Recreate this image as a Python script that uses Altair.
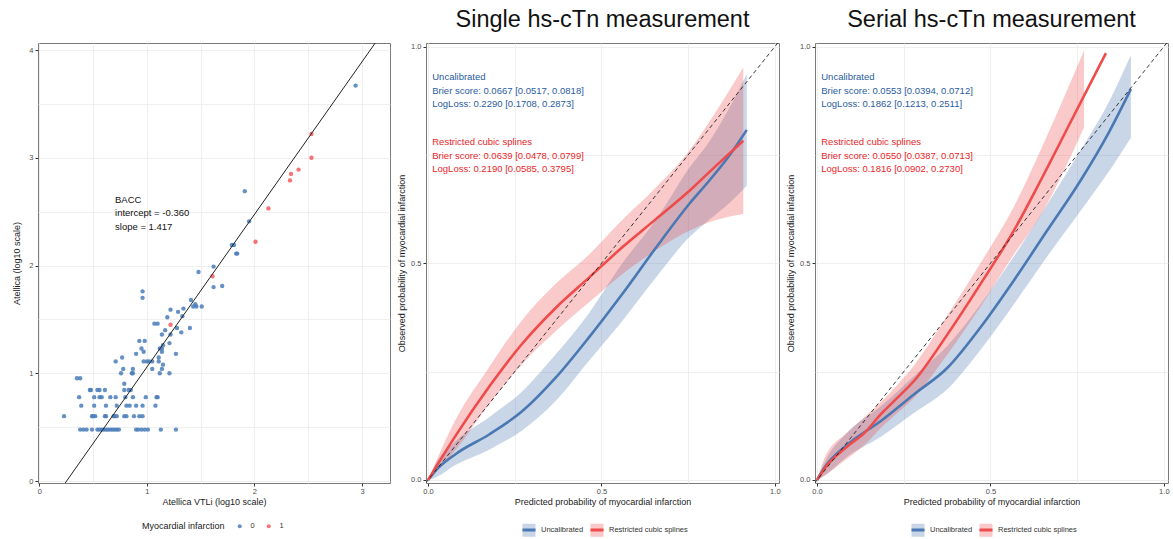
import altair as alt
import pandas as pd

FONT = "Liberation Sans"

# ---------------- Panel 1: Atellica VTLi vs Atellica (log10) ----------------
vtli = [
    0.38, 0.41, 0.44, 0.49, 0.54, 0.56, 0.58, 0.60, 0.62, 0.64, 0.66, 0.68, 0.70, 0.72, 0.74, 0.90, 0.92, 0.95, 0.98, 1.01, 1.13, 1.27,
    0.23, 0.49, 0.50, 0.52, 0.61, 0.62, 0.69, 0.70, 0.72, 0.79, 0.81, 0.88, 0.93, 0.96,
    0.39, 0.51, 0.62, 0.72, 0.81, 0.84, 0.90, 0.96, 1.08,
    0.37, 0.51, 0.56, 0.58, 0.66, 0.71, 0.80, 0.87, 0.99, 1.09, 1.10,
    0.47, 0.48, 0.54, 0.56, 0.61, 0.79, 0.83, 0.85,
    0.79,
    0.35, 0.38,
    0.76, 0.86, 0.87, 1.12, 1.21,
    0.78, 0.87, 1.05, 1.14,
    1.15,
    0.71, 0.97, 1.00, 1.02, 1.05, 1.11,
    0.77, 1.11,
    0.90, 1.27,
    0.97, 1.14,
    0.95, 1.12, 1.14,
    1.15, 1.21, 0.93, 0.98, 1.14, 1.22, 1.32, 1.17, 1.28, 1.40,
    1.22, 1.07, 1.10,
    1.19, 1.33, 1.29, 1.22, 1.34, 1.43, 1.46, 1.51, 1.45, 1.41, 0.96, 0.96,
    1.62, 1.70, 1.61, 1.48, 1.62, 1.83, 1.84, 1.79, 1.81, 2.01, 1.95, 2.13, 1.91,
    2.33, 2.34, 2.41, 2.53, 2.53, 2.94,
]
atellica = [
    0.477] * 22 + [0.602] * 14 + [0.699] * 9 + [0.778] * 11 + [0.845] * 8 + [0.903] + [0.954] * 2 + [1.0] * 5 + [
    1.04] * 4 + [1.08] + [1.11] * 6 + [1.146] * 2 + [1.18] * 2 + [1.20] * 2 + [1.23] * 3 + [
    1.26, 1.28, 1.30, 1.30, 1.36, 1.36, 1.38, 1.40, 1.42, 1.42,
    1.45, 1.46, 1.46,
    1.52, 1.53, 1.57, 1.59, 1.60, 1.62, 1.62, 1.62, 1.64, 1.68, 1.70, 1.76,
    1.80, 1.81, 1.90, 1.94, 1.99, 2.11, 2.11, 2.19, 2.19, 2.22, 2.41, 2.53, 2.69,
    2.79, 2.85, 2.89, 3.00, 3.22, 3.67,
]
mi_points = [(1.22, 1.45), (1.61, 1.90), (2.01, 2.22), (2.13, 2.53), (2.33, 2.79), (2.34, 2.85),
             (2.41, 2.89), (2.53, 3.00), (2.53, 3.22)]
mi = ["1" if (xv, yv) in mi_points else "0" for xv, yv in zip(vtli, atellica)]

reg_intercept = -0.360
reg_slope = 1.417
reg_x = [0.0, 3.4]
reg_y = [reg_intercept + reg_slope * v for v in reg_x]
bacc_text = ["BACC", "intercept = -0.360", "slope = 1.417"]

# ---------------- Panel 2: Single hs-cTn measurement ----------------
single_unc_pred = [0.0, 0.02, 0.08, 0.176, 0.272, 0.368, 0.464, 0.56, 0.657, 0.753, 0.81, 0.87, 0.919]
single_unc_obs = [0.0, 0.02, 0.06, 0.105, 0.159, 0.236, 0.329, 0.429, 0.536, 0.637, 0.69, 0.75, 0.808]
single_unc_lo = [0.0, 0.005, 0.035, 0.07, 0.115, 0.182, 0.275, 0.367, 0.467, 0.56, 0.60, 0.64, 0.679]
single_unc_hi = [0.0, 0.035, 0.09, 0.145, 0.205, 0.29, 0.385, 0.50, 0.60, 0.72, 0.78, 0.86, 0.937]

single_rcs_pred = [0.0, 0.08, 0.176, 0.272, 0.368, 0.464, 0.56, 0.657, 0.753, 0.83, 0.909]
single_rcs_obs = [0.0, 0.103, 0.215, 0.315, 0.397, 0.467, 0.537, 0.602, 0.667, 0.725, 0.783]
single_rcs_lo = [0.0, 0.07, 0.175, 0.268, 0.343, 0.41, 0.475, 0.53, 0.575, 0.60, 0.614]
single_rcs_hi = [0.0, 0.14, 0.26, 0.37, 0.453, 0.52, 0.60, 0.675, 0.76, 0.85, 0.952]

single_unc_text = ["Uncalibrated", "Brier score: 0.0667 [0.0517, 0.0818]", "LogLoss: 0.2290 [0.1708, 0.2873]"]
single_rcs_text = ["Restricted cubic splines", "Brier score: 0.0639 [0.0478, 0.0799]", "LogLoss: 0.2190 [0.0585, 0.3795]"]

# ---------------- Panel 3: Serial hs-cTn measurement ----------------
serial_unc_pred = [0.0, 0.021, 0.088, 0.184, 0.28, 0.376, 0.471, 0.567, 0.663, 0.759, 0.84, 0.905]
serial_unc_obs = [0.0, 0.028, 0.082, 0.136, 0.198, 0.259, 0.352, 0.46, 0.575, 0.69, 0.80, 0.902]
serial_unc_lo = [0.0, 0.01, 0.055, 0.10, 0.155, 0.21, 0.30, 0.405, 0.515, 0.62, 0.71, 0.79]
serial_unc_hi = [0.0, 0.04, 0.11, 0.17, 0.24, 0.31, 0.405, 0.515, 0.635, 0.76, 0.87, 0.981]

serial_rcs_pred = [0.0, 0.021, 0.088, 0.136, 0.184, 0.232, 0.28, 0.376, 0.471, 0.567, 0.644, 0.74, 0.833]
serial_rcs_obs = [0.0, 0.026, 0.078, 0.108, 0.152, 0.19, 0.229, 0.336, 0.452, 0.575, 0.69, 0.84, 0.985]
serial_rcs_band_pred = [0.0, 0.021, 0.088, 0.136, 0.184, 0.232, 0.28, 0.376, 0.471, 0.567, 0.644, 0.77]
serial_rcs_lo = [0.0, 0.01, 0.05, 0.08, 0.12, 0.155, 0.19, 0.29, 0.40, 0.52, 0.61, 0.814]
serial_rcs_hi = [0.0, 0.05, 0.11, 0.145, 0.18, 0.22, 0.265, 0.38, 0.50, 0.63, 0.76, 0.991]

serial_unc_text = ["Uncalibrated", "Brier score: 0.0553 [0.0394, 0.0712]", "LogLoss: 0.1862 [0.1213, 0.2511]"]
serial_rcs_text = ["Restricted cubic splines", "Brier score: 0.0550 [0.0387, 0.0713]", "LogLoss: 0.1816 [0.0902, 0.2730]"]

MODELS = ["Uncalibrated", "Restricted cubic splines"]
LINE_COLORS = ["#4A78B2", "#EF4B4B"]
TEXT_COLORS = ["#2A5C9E", "#E8262A"]
PT_COLORS = ["#4A7DBA", "#F25A5A"]

W2, H = 353, 440
AX_LABEL = dict(labelFont=FONT, labelFontSize=7.5, labelColor="#4D4D4D", titleFont=FONT,
                titleFontSize=9, titleFontWeight="normal", titleColor="#1a1a1a", tickColor="#333333",
                tickSize=3, domain=False, gridColor="#EBEBEB", gridWidth=0.8)

# ---------------- build panel 1 ----------------
df_pts = pd.DataFrame({"vtli": vtli, "atellica": atellica, "mi": mi})
df_reg = pd.DataFrame({"vtli": reg_x, "atellica": reg_y})
df_bacc = pd.DataFrame({"vtli": [0.704] * 3, "atellica": [2.61, 2.485, 2.36], "label": bacc_text})

half_steps_x = [0, 0.5, 1, 1.5, 2, 2.5, 3]
half_steps_y = [0, 0.5, 1, 1.5, 2, 2.5, 3, 3.5, 4]
int_test = {"condition": {"test": "datum.value % 1 === 0", "value": 1}, "value": 0}

x1 = alt.X("vtli:Q", scale=alt.Scale(domain=[-0.012, 3.26], nice=False, zero=False),
           axis=alt.Axis(title="Atellica VTLi (log10 scale)", values=half_steps_x,
                         labelExpr="datum.value % 1 === 0 ? format(datum.value, 'd') : ''",
                         tickOpacity=int_test, labelPadding=1, titlePadding=3, **AX_LABEL))
y1 = alt.Y("atellica:Q", scale=alt.Scale(domain=[-0.0185, 4.065], nice=False, zero=False),
           axis=alt.Axis(title="Atellica (log10 scale)", values=half_steps_y,
                         labelExpr="datum.value % 1 === 0 ? format(datum.value, 'd') : ''",
                         tickOpacity=int_test, labelPadding=2, titlePadding=7, **AX_LABEL))

pts = alt.Chart(df_pts).mark_circle(size=19, opacity=0.85).encode(
    x=x1, y=y1,
    color=alt.Color("mi:N", scale=alt.Scale(domain=["0", "1"], range=PT_COLORS),
                    legend=alt.Legend(title="Myocardial infarction", orient="none", legendX=104, legendY=479,
                                      direction="horizontal", titleOrient="left", titleFont=FONT,
                                      titleFontSize=9, titleFontWeight="normal", titleColor="#1a1a1a",
                                      titlePadding=11, labelFont=FONT, labelFontSize=7.5, labelColor="#333333",
                                      symbolType="circle", symbolSize=16, symbolStrokeWidth=0,
                                      symbolOpacity=0.85, labelOffset=7, columnPadding=10)),
)
reg = alt.Chart(df_reg).mark_line(color="#222222", strokeWidth=1, clip=True).encode(x="vtli:Q", y="atellica:Q")
bacc = alt.Chart(df_bacc).mark_text(align="left", baseline="middle", font=FONT, fontSize=9.5,
                                    color="#111111").encode(x="vtli:Q", y="atellica:Q", text="label:N")
p1 = alt.layer(pts, reg, bacc).properties(width=352, height=H)


# ---------------- calibration panels ----------------
def calib_panel(title, unc_pred, unc_obs, unc_lo, unc_hi, rcs_pred, rcs_obs,
                rcs_band_pred, rcs_lo, rcs_hi, unc_text, rcs_text):
    df_band = pd.concat([
        pd.DataFrame({"pred": unc_pred, "lo": unc_lo, "hi": unc_hi, "model": MODELS[0]}),
        pd.DataFrame({"pred": rcs_band_pred, "lo": rcs_lo, "hi": rcs_hi, "model": MODELS[1]}),
    ])
    df_line = pd.concat([
        pd.DataFrame({"pred": unc_pred, "obs": unc_obs, "model": MODELS[0]}),
        pd.DataFrame({"pred": rcs_pred, "obs": rcs_obs, "model": MODELS[1]}),
    ])
    df_diag = pd.DataFrame({"pred": [-0.02, 1.02], "obs": [-0.02, 1.02]})
    df_txt = pd.DataFrame({
        "pred": [0.012] * 6,
        "obs": [0.931, 0.898, 0.868, 0.781, 0.748, 0.718],
        "label": unc_text + rcs_text,
        "grp": [MODELS[0]] * 3 + [MODELS[1]] * 3,
    })
    q_vals = [0, 0.25, 0.5, 0.75, 1.0]
    half_test = {"condition": {"test": "datum.value % 0.5 === 0", "value": 1}, "value": 0}
    lab = "datum.value % 0.5 === 0 ? format(datum.value, '.1f') : ''"
    xs = alt.Scale(domain=[-0.006, 1.012], nice=False, zero=False)
    ys = alt.Scale(domain=[-0.007, 1.0085], nice=False, zero=False)
    xax = alt.Axis(title="Predicted probability of myocardial infarction", values=q_vals, labelExpr=lab,
                   tickOpacity=half_test, labelPadding=1, titlePadding=3, **AX_LABEL)
    yax = alt.Axis(title="Observed probability of myocardial infarction", values=q_vals, labelExpr=lab,
                   tickOpacity=half_test, labelPadding=2, titlePadding=4, **AX_LABEL)
    leg_common = dict(orient="none", legendX=95, legendY=479, direction="horizontal", title=None,
                      labelFont=FONT, labelFontSize=7.5, labelColor="#333333", symbolSize=169,
                      labelOffset=4, symbolStrokeWidth=3)
    band = alt.Chart(df_band).mark_area(opacity=0.3, interpolate="monotone").encode(
        x=alt.X("pred:Q", scale=xs, axis=xax),
        y=alt.Y("lo:Q", scale=ys, axis=yax),
        y2="hi:Q",
        fill=alt.Fill("model:N", scale=alt.Scale(range=LINE_COLORS), sort=MODELS,
                      legend=alt.Legend(symbolType="square", symbolOpacity=0.3,
                                        symbolStrokeColor="transparent", columnPadding=0, **leg_common)),
    )
    # line legend: symbols only (labels come from the band legend drawn at the same place)
    lines = alt.Chart(df_line).mark_line(strokeWidth=2.6, interpolate="monotone").encode(
        x="pred:Q", y="obs:Q",
        stroke=alt.Stroke("model:N", scale=alt.Scale(range=LINE_COLORS), sort=MODELS,
                          legend=alt.Legend(symbolType="stroke", labelExpr="''", columnPadding=42,
                                            **leg_common)),
        detail="model:N",
    )
    diag = alt.Chart(df_diag).mark_line(color="#222222", strokeWidth=0.9, strokeDash=[4, 3], clip=True).encode(
        x="pred:Q", y="obs:Q")
    txt = alt.Chart(df_txt).mark_text(align="left", baseline="middle", font=FONT, fontSize=9.5).encode(
        x="pred:Q", y="obs:Q", text="label:N",
        color=alt.Color("grp:N", scale=alt.Scale(domain=MODELS, range=TEXT_COLORS), legend=None),
    )
    return alt.layer(band, lines, diag, txt).properties(
        width=W2, height=H,
        title=alt.TitleParams(title, font=FONT, fontSize=23.5, fontWeight="normal", color="#111111",
                              anchor="middle", offset=11),
    ).resolve_scale(color="independent")


p2 = calib_panel("Single hs-cTn measurement", single_unc_pred, single_unc_obs, single_unc_lo, single_unc_hi,
                 single_rcs_pred, single_rcs_obs, single_rcs_pred, single_rcs_lo, single_rcs_hi,
                 single_unc_text, single_rcs_text)
p3 = calib_panel("Serial hs-cTn measurement", serial_unc_pred, serial_unc_obs, serial_unc_lo, serial_unc_hi,
                 serial_rcs_pred, serial_rcs_obs, serial_rcs_band_pred, serial_rcs_lo, serial_rcs_hi,
                 serial_unc_text, serial_rcs_text)

chart = alt.hconcat(p1, p2, p3, spacing=36, bounds="flush").resolve_scale(
    x="independent", y="independent", color="independent", fill="independent", stroke="independent"
).properties(
    padding={"left": 12, "top": 7, "right": 0, "bottom": 0},
    background="white",
).configure_view(stroke="#7A7A7A", strokeWidth=1)

chart.save("out.html", embed_options={"renderer": "svg", "actions": False})
